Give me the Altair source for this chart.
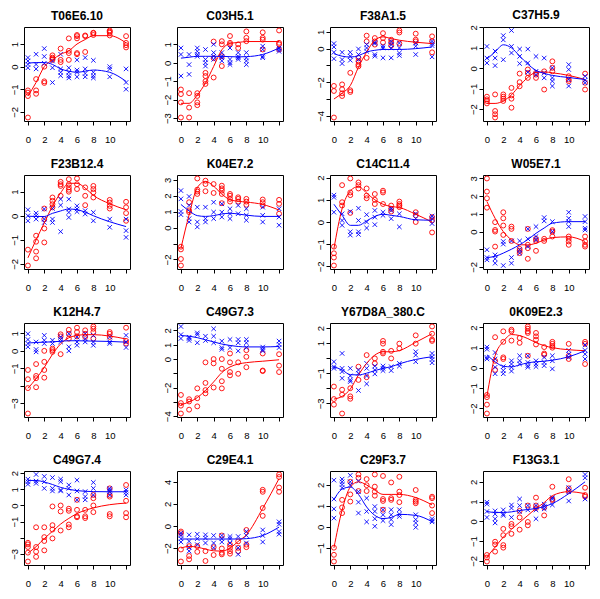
import altair as alt
import pandas as pd
import math

times = [0, 1, 2, 3, 4, 5, 6, 7, 8, 10, 12]

titles = ["T06E6.10", "C03H5.1", "F38A1.5", "C37H5.9",
          "F23B12.4", "K04E7.2", "C14C11.4", "W05E7.1",
          "K12H4.7", "C49G7.3", "Y67D8A_380.C", "0K09E2.3",
          "C49G7.4", "C29E4.1", "C29F3.7", "F13G3.1"]

# y tick labels that are actually printed (R drops overlapping ones)
ylabels = [[1, 0, -1, -2], [1, 0, -1, -2, -3], [1, 0, -2, -4], [2, 1, 0, -1, -2],
           [1, 0, -1, -2], [3, 2, 1, 0, -2], [2, 1, 0, -1, -2], [3, 2, 1, 0, -2],
           [1, 0, -1, -3], [2, 1, 0, -2, -4], [2, 1, -1, -3], [2, 1, 0, -1, -2],
           [2, 1, 0, -1, -3], [4, 2, 0, -2], [2, 1, 0, -1], [2, 1, 0, -1, -2]]
ystep = [1, 1, 1, 1, 1, 1, 1, 1, 1, 1, 1, 1, 1, 2, 1, 1]

# ---- panel data: replicate values per time point, and fitted curves ----
red_01 = [[-1.05,-1.15,-1.3,-2.25],[-0.55,-1.05,-1.2],[-0.65,-0.72,0.0],[0.5,0.4,0.3,0.35],[0.8,0.3,0.2],[1.25,0.7,0.6,0.3],[1.4,1.35,1.25,0.6,0.55],[1.38,1.35,0.65],[1.5,1.48,1.4],[1.6,1.55,1.5,1.38],[1.35,1.05,0.95,0.85]]
blue_01 = [[0.4,0.25,0.1,-0.05],[0.55,0.1,-0.1],[0.8,0.45,0.15],[0.25,-0.05,-0.7],[0.55,-0.1,-0.25,-0.4],[-0.05,-0.25,-0.4,-0.5],[0.3,-0.15,-0.25,-0.45],[0.4,-0.1,-0.3,-0.45],[0.28,-0.25,-0.4,-0.5],[0.0,-0.1,-0.45],[-0.1,-0.7,-1.0]]
redfit_01 = [-1.3,-0.7,0.0,0.3,0.55,0.7,1.0,1.2,1.37,1.37,1.05]
bluefit_01 = [0.15,0.18,0.18,0.1,-0.1,-0.2,-0.25,-0.2,-0.15,-0.25,-0.65]

red_02 = [[-1.45,-1.7,-2.15,-2.97],[-1.65,-2.43,-2.97],[-1.65,-1.8,-2.15,-2.3],[-0.55,-0.72,-1.0,-1.15],[1.15,0.25,-0.8],[1.17,1.0,0.35,-0.18],[1.45,1.08,1.0],[1.0,0.8],[1.7,1.35,1.17],[1.65,1.35,1.25,0.72],[1.75,1.08,1.0,0.72]]
blue_02 = [[0.8,0.45,-0.72],[0.45,-0.1,-0.63],[0.8,0.62,0.45,0.35],[0.72,0.18,0.0,-0.18],[1.0,0.55,0.35,0.18],[0.55,0.35,0.27,0.1],[0.8,0.18,0.0,-0.1],[0.55,0.35,0.27,0.18],[0.55,0.27,0.1,-0.1],[0.9,0.72,0.35,0.27],[0.8,0.72,0.62]]
redfit_02 = [-2.2,-2.2,-1.75,-1.1,-0.2,0.7,1.05,1.1,1.15,1.15,1.15]
bluefit_02 = [0.25,0.3,0.35,0.35,0.35,0.35,0.33,0.32,0.33,0.45,0.8]

red_03 = [[-2.22,-2.52,-4.1],[-2.13,-2.42,-2.66,-2.82],[-1.44,-2.48,-2.58],[-0.55,-0.75,-0.95,-1.05],[0.77,0.43,-0.55],[0.63,0.43,0.24],[0.92,0.63,0.37],[0.53,0.37,0.18],[1.08,0.96,0.3],[0.89,0.53,0.43],[0.73,0.43,-0.22]]
blue_03 = [[0.3,0.1,-0.22,-0.6],[-0.22,-0.65,-0.89],[-0.22,-0.45,-0.69],[-0.02,-0.35,-0.65],[0.24,0.04,-0.16],[0.37,0.3,-0.35,-0.45],[0.14,0.04,-0.55],[0.43,0.24,0.04,-0.55],[0.33,0.04,-0.26,-0.41],[0.33,0.14,-0.35],[0.43,0.3,0.18,-0.49]]
redfit_03 = [-3.0,-2.65,-2.2,-1.1,-0.2,0.5,0.7,0.6,0.5,0.38,0.3]
bluefit_03 = [-0.3,-0.45,-0.5,-0.42,-0.2,-0.1,-0.05,-0.05,-0.05,0.0,0.1]

red_04 = [[-1.39,-1.52,-1.6,-1.72],[-1.28,-2.09,-2.25,-2.41],[-1.28,-1.39,-1.49,-1.6],[-0.96,-1.33,-1.49,-1.93],[-0.26,-0.68,-0.88],[-0.06,-0.23,-0.47],[-0.23,-0.31,-0.47],[-0.15,-1.04],[0.34,0.02,-0.15],[-0.39,-0.55,-0.63],[-0.26,-0.71,-1.04]]
blue_04 = [[1.07,0.5,0.26],[0.84,0.5,0.13],[1.6,1.39,0.42],[1.85,1.07,0.75],[0.94,0.58,0.23],[0.94,0.26,-0.19],[0.58,-0.15,-0.31],[0.5,-0.23,-0.47],[0.02,-0.47,-0.63,-0.87],[0.18,-0.06,-0.55,-0.87],[-0.39,-0.58,-0.71]]
redfit_04 = [-1.72,-1.72,-1.6,-1.3,-0.85,-0.45,-0.2,-0.18,-0.22,-0.35,-0.55]
bluefit_04 = [0.45,0.8,1.15,1.0,0.6,0.2,-0.1,-0.25,-0.35,-0.45,-0.55]

red_05 = [[-1.41,-2.07],[-0.83,-1.08,-1.49,-1.77],[0.3,-0.14,-0.53,-1.11],[0.76,0.62,0.48,0.35],[1.41,1.31,1.24,0.83],[1.52,1.31,1.18,1.08,1.0],[1.55,1.31,1.11],[1.18,0.83,0.44],[1.24,1.11,0.97,0.76],[0.66,0.55,0.41,0.3],[0.58,0.35,0.11,-0.21]]
blue_05 = [[0.25,0.0,-0.21],[0.11,0.0,-0.14],[0.28,-0.14,-0.28],[0.3,-0.14,-0.28],[0.69,0.44,-0.66],[0.69,0.28,0.14,-0.07],[0.41,0.28,0.17],[0.21,0.07],[0.14,-0.21],[-0.14,-0.48],[-0.14,-0.62,-0.9]]
redfit_05 = [-1.75,-1.0,-0.3,0.4,0.95,1.35,1.35,1.15,0.85,0.5,0.25]
bluefit_05 = [-0.02,-0.03,-0.03,0.1,0.2,0.28,0.25,0.15,0.0,-0.25,-0.45]

red_06 = [[-1.2,-1.37,-1.97,-2.38],[1.59,1.08,0.97],[3.08,2.38,2.26,2.11],[2.94,2.73,2.28],[2.73,2.17],[2.63,2.46,2.32,2.11,1.53],[2.11,2.0,1.8,1.63],[1.9,1.8,1.63],[1.8,1.63,1.43],[1.76,1.59,1.39],[1.74,1.49,0.87]]
blue_06 = [[2.32,1.8,1.01,0.81],[1.95,1.39,0.56,0.35],[1.28,0.35,0.04],[1.28,0.56,0.35],[1.59,0.97,0.56],[1.49,0.97,0.66],[1.18,0.87,0.56],[1.39,0.87],[1.18,0.77,0.46],[1.28,0.77,0.35],[1.18,0.66,0.15]]
redfit_06 = [-1.3,0.8,2.5,2.9,2.6,2.1,1.75,1.65,1.6,1.45,1.1]
bluefit_06 = [1.45,1.05,0.75,0.7,0.75,0.85,0.9,0.85,0.78,0.7,0.7]

red_07 = [[-1.11,-1.41,-1.6,-1.96],[1.66,0.89,0.74],[1.96,1.33,1.21,0.41],[1.78,1.66,1.51],[1.51,1.19,1.07],[1.26,1.0,0.81],[1.41,1.33,0.81],[0.74,0.59,0.47],[0.92,0.81,0.74,0.67],[0.44,0.3,0.0],[0.22,0.07,-0.47]]
blue_07 = [[1.21,1.11,0.44],[0.37,0.07,-0.15],[0.47,-0.44,-0.59],[0.62,0.07,-0.44,-0.56],[0.33,0.0,-0.27],[0.52,0.22,-0.12],[0.44,0.3],[0.62,0.52,0.15],[0.37,-0.22],[0.37,0.15],[0.27,0.15,-0.07]]
redfit_07 = [-1.2,0.6,1.4,1.6,1.3,1.0,0.8,0.7,0.65,0.35,0.0]
bluefit_07 = [0.8,0.3,-0.15,-0.15,0.05,0.25,0.35,0.3,0.25,0.1,0.08]

red_08 = [[3.0,2.26,1.88,1.35],[0.53,0.09,0.0,-0.85],[1.09,0.75,0.34,-0.19],[0.28,0.15,-0.53],[-0.98,-1.09,-1.22],[0.15,-0.75,-0.94,-1.54],[-0.41,-0.53,-1.09],[-0.41,-0.53],[0.08,0.0,-0.28],[-0.28,-0.41,-0.56,-0.75],[-0.28,-0.56,-0.75,-0.85]]
blue_08 = [[-1.03,-1.47,-1.6],[-1.32,-1.54,-1.79],[-0.56,-0.71,-1.92],[-0.53,-1.47,-1.79],[-0.53,-1.03,-1.22],[0.15,-0.41,-0.85],[0.28,-0.28,-0.47],[0.79,0.6],[0.56,0.0],[1.09,0.75,0.56,0.28],[0.85,0.56,0.19,0.09]]
redfit_08 = [1.7,0.75,0.0,-0.47,-0.75,-0.75,-0.66,-0.47,-0.34,-0.3,-0.56]
bluefit_08 = [-1.47,-1.4,-1.22,-1.0,-0.75,-0.45,-0.1,0.2,0.47,0.56,0.56]

red_09 = [[-1.1,-1.63,-2.14,-3.6],[-0.76,-1.44,-1.57,-2.09],[0.0,-0.63,-1.1,-1.54],[0.13,0.04,-0.06],[0.95,0.83,-0.19],[1.21,0.98,0.7],[1.33,1.08,0.83],[1.18,0.98,0.8],[1.4,1.27,1.08,0.7],[1.08,0.98,0.8],[1.33,0.57,0.42]]
blue_09 = [[0.98,0.65,0.42,0.23],[0.51,0.08,-0.06],[0.89,0.61,0.42],[0.61,0.42],[0.8,0.65,0.51],[0.98,0.23,0.0],[0.8,0.51,0.32],[0.98,0.7,0.51],[0.89,0.51,0.32],[0.8,0.51,0.42],[0.89,0.51,0.19]]
redfit_09 = [-2.15,-1.6,-0.95,-0.2,0.4,0.75,0.88,0.93,0.93,0.85,0.68]
bluefit_09 = [0.45,0.48,0.5,0.52,0.55,0.58,0.58,0.57,0.56,0.54,0.5]

red_10 = [[-2.51,-3.08,-3.26,-3.81],[-2.81,-2.97,-3.54],[-2.05,-2.74,-3.31],[-0.23,-1.67,-2.17,-2.4],[0.0,-0.3,-1.99],[0.0,-0.68,-1.55,-2.05],[0.39,-0.23,-0.91,-1.14],[-0.23,-1.03],[0.62,0.16,-0.57],[0.39,-0.8,-0.84],[0.34,-0.46,-0.91]]
blue_10 = [[2.28,1.71,1.44],[1.53,1.44,1.3],[1.83,1.71,1.14],[1.6,1.3],[2.12,1.6,1.14],[1.26,0.8,0.68],[1.37,0.8],[1.37,1.14,0.57],[1.37,1.14,0.8],[0.84,0.68,0.57],[1.26,1.03,0.8]]
redfit_10 = [-3.2,-3.0,-2.7,-2.2,-1.6,-0.95,-0.55,-0.35,-0.25,-0.15,-0.05]
bluefit_10 = [1.65,1.6,1.5,1.35,1.2,1.05,0.95,0.88,0.85,0.85,0.88]

red_11 = [[-1.89,-2.72,-3.09],[-2.1,-2.43,-3.68],[-2.0,-2.54,-2.7],[-0.57,-1.45],[0.2,-1.27],[-0.02,-0.35],[1.14,0.96,0.42,0.31],[0.48,-0.02],[0.96,0.64],[1.51,0.96],[2.1,1.62,1.23,1.14]]
blue_11 = [[-0.24,-0.57,-0.68],[0.31,-0.68,-0.9,-1.34],[-0.68,-1.18,-1.45,-1.56],[-0.79,-1.01,-2.15],[-0.35,-0.68,-1.18,-1.71],[-0.53,-0.79,-1.05],[-0.53,-0.68,-0.83],[-0.57,-0.83],[-0.35,-0.53],[0.42,0.2,-0.24],[0.31,0.09,-0.09,-0.31]]
redfit_11 = [-2.72,-2.54,-2.06,-1.12,-0.35,0.2,0.42,0.42,0.5,1.05,1.62]
bluefit_11 = [-0.57,-0.79,-1.1,-1.12,-1.0,-0.83,-0.68,-0.57,-0.38,-0.09,0.09]

red_12 = [[-1.34,-1.45,-1.82,-2.26],[1.52,0.35,-0.1],[1.81,1.29,0.52,0.44],[1.89,1.81,1.35],[1.48,1.24],[2.05,1.94,1.81,1.73,0.6],[1.73,1.56,1.4,1.16],[1.03,0.71,0.65],[1.29,1.19,1.08,1.0],[1.19,0.6,0.44],[1.29,1.19,0.19]]
blue_12 = [[1.03,0.92,0.52,0.44],[0.76,0.44,0.03,-0.29],[0.06,-0.13,-0.29],[0.35,0.19,0.03,-0.16],[0.6,0.35,0.19],[0.6,0.27,0.11,0.03],[0.35,0.19,0.06],[0.52,0.27,0.11],[0.6,0.35,-0.05],[0.87,0.68,0.52],[1.13,0.87,0.68,0.44]]
redfit_12 = [-1.4,0.6,1.3,1.65,1.6,1.45,1.25,1.1,1.0,0.9,0.85]
bluefit_12 = [0.65,0.3,0.08,0.05,0.15,0.25,0.3,0.33,0.38,0.55,0.85]

red_13 = [[-2.31,-2.41,-2.57,-2.92,-3.47],[-1.35,-2.57,-2.86,-3.18],[-1.35,-1.96,-2.2,-2.78],[-0.06,-1.22,-1.49,-2.04],[0.0,-0.37,-1.55],[-0.2,-0.33,-1.18,-1.35],[0.35,-0.27,-0.67,-0.73],[-0.27,-0.67,-0.78],[0.65,0.45,0.0,-0.41],[1.06,0.65,0.55,-0.53,-0.67],[1.27,0.29,-0.47,-0.73]]
blue_13 = [[1.63,1.47,1.31],[1.92,1.51,1.37],[1.8,1.47,1.06],[1.73,1.06,0.9],[1.63,1.47,0.96,0.9],[1.27,1.06,0.65],[1.57,0.9,0.35],[0.86,0.55,0.35],[1.43,1.06,0.65],[1.06,0.96,0.86,0.65],[0.96,0.82,0.65]]
redfit_13 = [-2.95,-2.55,-2.05,-1.6,-1.15,-0.8,-0.5,-0.3,-0.15,0.05,0.15]
bluefit_13 = [1.55,1.55,1.45,1.3,1.12,1.0,0.92,0.88,0.86,0.85,0.85]

red_14 = [[-0.5,-0.65,-2.13,-3.22],[-1.83,-2.72,-3.02],[-1.83,-2.34],[-2.28,-3.17],[-1.92,-2.63],[-0.86,-2.04,-2.43,-2.57],[-1.69,-1.98,-2.28,-2.51],[-1.39,-1.98,-2.28],[-0.36,-1.69,-1.92],[3.28,3.1,1.63,0.92],[4.67,4.44,3.49,3.1]]
blue_14 = [[-0.65,-0.86,-1.15,-1.45],[-0.8,-1.39,-1.92,-2.28],[-0.74,-1.15,-1.69],[-0.8,-1.09,-1.54],[-0.86,-1.54,-1.98],[-0.86,-1.15,-1.45],[-0.95,-1.15,-1.54],[-0.95,-1.98,-2.57],[-0.5,-0.86,-1.54],[-0.36,-0.86,-1.45],[0.38,0.15,-0.5,-0.74]]
redfit_14 = [-2.0,-1.85,-1.92,-2.1,-2.25,-2.28,-2.0,-1.4,-0.8,1.6,4.3]
bluefit_14 = [-1.18,-1.18,-1.18,-1.18,-1.18,-1.18,-1.18,-1.18,-1.15,-0.86,-0.1]

red_15 = [[-0.99,-1.33,-1.65],[1.29,0.93,0.66],[2.15,1.55,1.21],[2.5,2.34,1.71],[2.28,1.99,1.71],[2.5,1.92,1.68,1.49],[2.43,1.33,1.24,0.82],[2.12,1.37,1.29],[2.39,1.68,1.52,1.18],[1.76,1.29,1.21,1.13],[1.44,1.37,1.02,0.66]]
blue_15 = [[2.23,1.33,0.86,0.42],[2.28,2.15,2.02,1.87],[2.46,2.15,1.99],[2.18,1.68,1.18,0.66],[1.37,0.74,0.24],[0.97,0.74,0.39,0.03],[0.82,0.58,0.3],[0.82,0.58,0.35,0.11],[0.82,0.61,0.5],[0.58,0.35,0.19,-0.02],[0.39,0.3,0.24]]
redfit_15 = [-1.0,0.8,1.9,2.15,2.0,1.75,1.55,1.55,1.55,1.4,1.05]
bluefit_15 = [1.3,1.8,1.9,1.55,0.95,0.55,0.4,0.45,0.6,0.55,0.25]

red_16 = [[-1.7,-1.83,-2.03],[-1.03,-1.17,-1.53],[-0.38,-0.7,-1.2,-1.33],[-0.13,-0.25,-0.63],[0.53,0.2,-0.42],[0.8,-0.03,-0.2],[1.2,0.8,0.67],[0.7,0.3],[1.75,1.13,1.08],[2.13,1.67,1.53],[1.7,1.33,1.25]]
blue_16 = [[0.97,0.87,0.5,0.2],[0.53,0.37,0.13,-0.08],[0.58,0.37,0.3],[0.83,0.67,0.2],[1.13,0.8,0.5],[0.8,0.58],[0.8,0.58,0.13],[0.87,0.75,0.63],[1.2,1.13,0.83],[1.7,1.5,1.03],[2.37,2.2,1.13]]
redfit_16 = [-1.8,-1.3,-0.8,-0.4,-0.05,0.3,0.65,0.95,1.3,1.5,1.4]
bluefit_16 = [0.5,0.45,0.45,0.48,0.55,0.6,0.65,0.75,0.9,1.4,2.0]

reds = [red_01, red_02, red_03, red_04, red_05, red_06, red_07, red_08,
        red_09, red_10, red_11, red_12, red_13, red_14, red_15, red_16]
blues = [blue_01, blue_02, blue_03, blue_04, blue_05, blue_06, blue_07, blue_08,
         blue_09, blue_10, blue_11, blue_12, blue_13, blue_14, blue_15, blue_16]
redfits = [redfit_01, redfit_02, redfit_03, redfit_04, redfit_05, redfit_06, redfit_07, redfit_08,
           redfit_09, redfit_10, redfit_11, redfit_12, redfit_13, redfit_14, redfit_15, redfit_16]
bluefits = [bluefit_01, bluefit_02, bluefit_03, bluefit_04, bluefit_05, bluefit_06, bluefit_07, bluefit_08,
            bluefit_09, bluefit_10, bluefit_11, bluefit_12, bluefit_13, bluefit_14, bluefit_15, bluefit_16]

RED = "#FF0000"
BLUE = "#0000FF"
XSHAPE = "M-1,-1L1,1M-1,1L1,-1"
FONT = "Liberation Sans"
PW, PH = 106, 94


def pts_df(series):
    return pd.DataFrame([{"t": t, "v": v} for t, vals in zip(times, series) for v in vals])


def fit_df(series):
    return pd.DataFrame({"t": times, "v": series})


def panel(i):
    rp, bp = pts_df(reds[i]), pts_df(blues[i])
    rf, bf = fit_df(redfits[i]), fit_df(bluefits[i])
    allv = list(rp.v) + list(bp.v) + list(rf.v) + list(bf.v)
    lo, hi = min(allv), max(allv)
    pad = 0.04 * (hi - lo)
    dom = [lo - pad, hi + pad]
    st = ystep[i]
    ticks = [k * st for k in range(math.ceil(dom[0] / st), math.floor(dom[1] / st) + 1)]
    labs = ",".join(str(v) for v in ylabels[i])
    yaxis = alt.Axis(values=ticks, title=None,
                     labelExpr=f"indexof([{labs}], datum.value) >= 0 ? datum.label : ''",
                     labelAngle=270, labelAlign="center", labelBaseline="bottom",
                     labelPadding=1, minExtent=14, maxExtent=14)
    xaxis = alt.Axis(values=[0, 2, 4, 6, 8, 10, 12], title=None,
                     labelExpr="datum.value == 12 ? '' : datum.label", labelPadding=9)
    xs = alt.Scale(domain=[-0.48, 12.48], nice=False, zero=False)
    ys = alt.Scale(domain=dom, nice=False, zero=False)
    X = alt.X("t:Q", scale=xs, axis=xaxis)
    Y = alt.Y("v:Q", scale=ys, axis=yaxis)

    red_p = alt.Chart(rp).mark_point(shape="circle", filled=False, size=24, strokeWidth=0.9,
                                     color=RED, opacity=1).encode(x=X, y=Y)
    blue_p = alt.Chart(bp).mark_point(shape=XSHAPE, filled=False, size=20, strokeWidth=0.9,
                                      color=BLUE, opacity=1).encode(x=X, y=Y)
    red_l = alt.Chart(rf).mark_line(interpolate="monotone", color=RED, strokeWidth=1).encode(x=X, y=Y)
    blue_l = alt.Chart(bf).mark_line(interpolate="monotone", color=BLUE, strokeWidth=1).encode(x=X, y=Y)
    return alt.layer(red_p, blue_p, red_l, blue_l).properties(
        width=PW, height=PH,
        title=alt.TitleParams(text=titles[i], fontSize=12, fontWeight="bold", font=FONT,
                              anchor="middle", frame="group", offset=3, color="black"))


chart = alt.concat(*[panel(i) for i in range(16)], columns=4,
                   spacing={"row": 13, "column": 30}).properties(
    padding=0, background="white"
).configure_view(
    stroke="black", strokeWidth=1
).configure_axis(
    grid=False, domain=False, tickSize=4, tickColor="black", tickWidth=1,
    labelFont=FONT, labelFontSize=9.5, labelColor="black",
    labelFlush=False, labelOverlap=False, labelBound=False
)

chart.save("out.html", embed_options={"renderer": "svg", "actions": False})
